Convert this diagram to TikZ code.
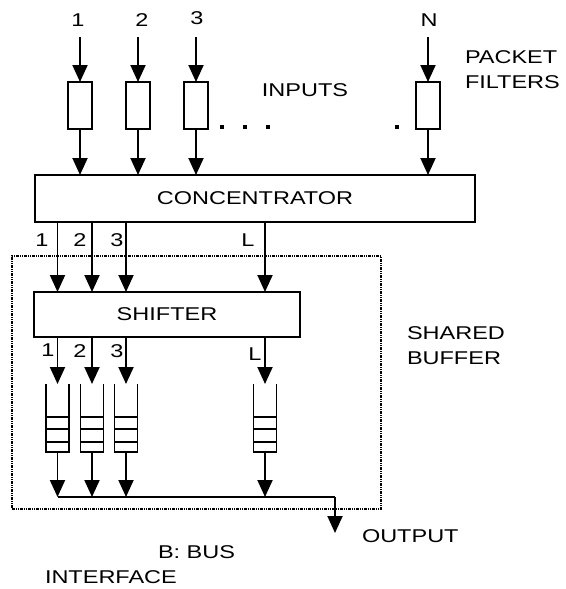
\documentclass[tikz,border=0pt]{standalone}
\usepackage{fontspec}
\setmainfont{Liberation Sans}[FakeStretch=1.27]
\usetikzlibrary{arrows.meta}
\begin{document}
\begin{tikzpicture}[x=1pt,y=-1pt,line width=1.9pt,
  every node/.style={font=\fontsize{18.5}{25}\selectfont,inner sep=0pt,outer sep=0pt},
  arr/.style={-{Triangle[length=17pt,width=15pt]}},
  filt/.style={draw,minimum width=24pt,minimum height=47pt},
  blk/.style={draw},
  buf/.style={minimum width=23pt,minimum height=68pt},
  lbl/.style={anchor=base west,align=left},
  dotsq/.style={fill,minimum size=4.5pt},
  sbox/.style={draw,line width=1.4pt,dash pattern=on 3pt off 1pt on 1pt off 1pt on 1pt off 1pt}]
\useasboundingbox (0,0) rectangle (565,589);
% shared buffer outline
\node[sbox,minimum width=369pt,minimum height=253pt] (sb) at (196.5,382.5) {};
% input labels
\node (n1) at (78,20) {1};
\node (n2) at (142,20) {2};
\node (n3) at (197,18) {3};
\node (nN) at (429,20) {N};
\coordinate (i1) at (80,37);
\coordinate (i2) at (138,37);
\coordinate (i3) at (196,37);
\coordinate (iN) at (428,37);
% filters
\node[filt] (f1) at (80,105.5) {};
\node[filt] (f2) at (138,105.5) {};
\node[filt] (f3) at (196,105.5) {};
\node[filt] (fN) at (428,105.5) {};
\foreach \k in {1,2,3,N}{\draw[arr] (i\k) -- (f\k.north);}
% dots
\node[dotsq] (d1) at (222,127) {};
\node[dotsq] (d2) at (245,127) {};
\node[dotsq] (d3) at (268,127) {};
\node[dotsq] (d4) at (397,127) {};
% concentrator
\node[blk,minimum width=440pt,minimum height=47pt] (conc) at (255,198.5) {CONCENTRATOR};
\foreach \k in {1,2,3,N}{\draw[arr] (f\k.south) -- (f\k.south |- conc.north);}
% shifter
\node[blk,minimum width=266pt,minimum height=45pt] (sh) at (167,314.5) {SHIFTER};
% buffers
\node[buf] (b1) at (57.5,418) {};
\node[buf] (b2) at (92,418) {};
\node[buf] (b3) at (126,418) {};
\node[buf] (bL) at (265,418) {};
\foreach \k in {1,2,3,L}{
  \draw (b\k.north west) |- (b\k.south east) -- (b\k.north east);
  \draw ([yshift=-33pt]b\k.north west) -- ([yshift=-33pt]b\k.north east);
  \draw ([yshift=-45pt]b\k.north west) -- ([yshift=-45pt]b\k.north east);
  \draw ([yshift=-58pt]b\k.north west) -- ([yshift=-58pt]b\k.north east);
  \draw[arr] (conc.south -| b\k) -- (sh.north -| b\k);
  \draw[arr] (sh.south -| b\k) -- (b\k.north);
}
% labels between blocks
\node (a1) at (42,240) {1};
\node (a2) at (80,240) {2};
\node (a3) at (117,240) {3};
\node (aL) at (248,240) {L};
\node (s1) at (48,350) {1};
\node (s2) at (80,351) {2};
\node (s3) at (117,351) {3};
\node (sL) at (255,354) {L};
% bus and output
\coordinate (bus) at (335,497);
\coordinate (out) at (335,533);
\draw (b1 |- bus) -- (bus);
\draw[arr] (bus) -- (out);
\foreach \k in {1,2,3,L}{\draw[arr] (b\k.south) -- (b\k |- bus);}
% texts
\node (inp) at (305,90.5) {INPUTS};
\node[lbl] (pf) at (465,88) {PACKET\\FILTERS};
\node[lbl] (shb) at (407,364) {SHARED\\BUFFER};
\node[lbl] (outl) at (362,542) {OUTPUT};
\node[lbl] (bb) at (158,558) {B: BUS};
\node[lbl] (bi) at (45,583) {INTERFACE};
\end{tikzpicture}
\end{document}
